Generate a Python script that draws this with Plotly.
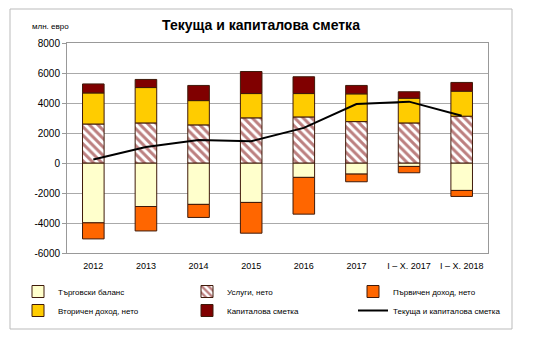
import plotly.graph_objects as go

categories = ["2012", "2013", "2014", "2015", "2016", "2017", "I – X. 2017", "I – X. 2018"]
trade_balance = [-3990, -2900, -2760, -2630, -960, -740, -230, -1830]
services = [2600, 2670, 2540, 3010, 3070, 2760, 2670, 3120]
primary_income = [-1070, -1630, -870, -2050, -2450, -510, -420, -400]
secondary_income = [2070, 2360, 1620, 1620, 1560, 1850, 1650, 1670]
capital_account = [600, 540, 1010, 1470, 1120, 560, 430, 580]
current_capital = [230, 1060, 1540, 1450, 2340, 3930, 4090, 3150]
y_ticks = [-6000, -4000, -2000, 0, 2000, 4000, 6000, 8000]
y_tick_labels = ["-6000", "-4000", "-2000", "0", "2000", "4000", "6000", "8000"]

names = ["Търговски баланс", "Услуги, нето", "Първичен доход, нето",
         "Вторичен доход, нето", "Капиталова сметка", "Текуща и капиталова сметка"]

FONT = "Liberation Sans, Arial, sans-serif"
edge = dict(color="#3f1a0a", width=1)

fig = go.Figure()
fig.add_bar(x=categories, y=trade_balance, name=names[0], legend="legend",
            marker=dict(color="#FFFFCC", line=edge))
fig.add_bar(x=categories, y=services, name=names[1], legend="legend2",
            marker=dict(color="white", line=edge,
                        pattern=dict(shape="\\", fgcolor="#7A0000", bgcolor="white",
                                     size=6, solidity=0.5)))
fig.add_bar(x=categories, y=primary_income, name=names[2], legend="legend3",
            marker=dict(color="#FF6600", line=edge))
fig.add_bar(x=categories, y=secondary_income, name=names[3], legend="legend",
            marker=dict(color="#FFCC00", line=edge))
fig.add_bar(x=categories, y=capital_account, name=names[4], legend="legend2",
            marker=dict(color="#800000", line=edge))
fig.add_scatter(x=categories, y=current_capital, name=names[5], mode="lines",
                legend="legend3", line=dict(color="black", width=2))

# plot area in pixels: x 67..488, y 43..253
L, R, T, B = 67, 488, 43, 253
W, H = R - L, B - T
px = lambda x: (x - L) / W
py = lambda y: (B - y) / H


def leg(xpix):
    return dict(orientation="v", xref="container", yref="container",
                x=xpix / 543, y=1 - 277 / 342, xanchor="left", yanchor="top",
                traceorder="normal", font=dict(size=8, family=FONT),
                itemwidth=30, tracegroupgap=0, bgcolor="rgba(0,0,0,0)")


fig.update_layout(
    width=543, height=342,
    margin=dict(l=L, r=543 - R, t=T, b=342 - B, autoexpand=False),
    paper_bgcolor="white", plot_bgcolor="white",
    barmode="relative", bargap=0.59,
    font=dict(family=FONT, size=10, color="black"),
    title=dict(text="<b>Текуща и капиталова сметка</b>", x=261 / 543, xanchor="center",
               y=1 - 25 / 342, yanchor="middle", font=dict(size=14, family=FONT)),
    xaxis=dict(showline=True, linecolor="#999999", linewidth=1, mirror=True,
               ticks="outside", ticklen=4, tickcolor="rgba(0,0,0,0)",
               tickfont=dict(size=9)),
    yaxis=dict(range=[-6000, 8000], tickvals=y_ticks, ticktext=y_tick_labels,
               showgrid=True, gridcolor="#AAAAAA",
               gridwidth=1, zeroline=False, showline=True, linecolor="#999999",
               mirror=True, ticks="outside", ticklen=4, tickcolor="#999999",
               tickfont=dict(size=10)),
    legend=leg(18), legend2=leg(187), legend3=leg(353),
    showlegend=True,
    shapes=[dict(type="rect", xref="paper", yref="paper",
                 x0=px(10), x1=px(512), y0=py(329), y1=py(9),
                 line=dict(color="#BBBBBB", width=1), layer="below")],
    annotations=[dict(text="млн. евро", xref="paper", yref="paper",
                      x=px(30), y=py(26), xanchor="left", yanchor="middle",
                      showarrow=False, font=dict(size=8, family=FONT))],
)

fig.write_html("out.html")
